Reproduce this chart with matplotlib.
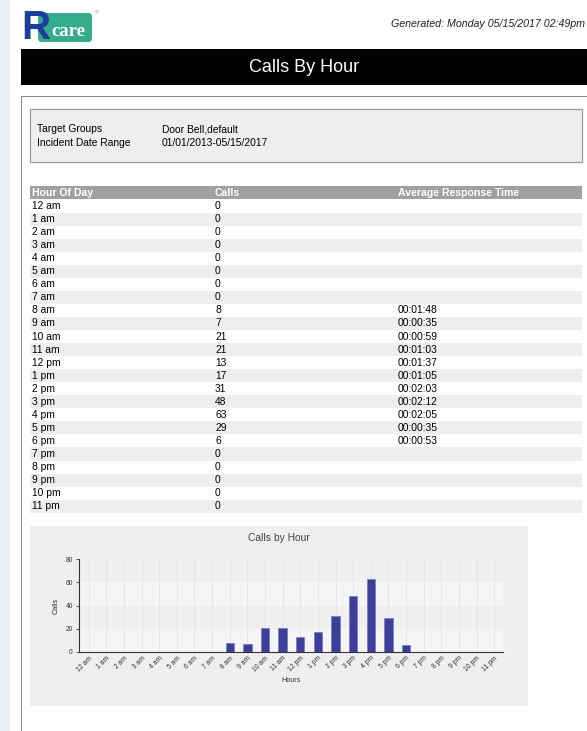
import matplotlib
matplotlib.use('Agg')
import matplotlib.pyplot as plt
from matplotlib.patches import Rectangle, FancyBboxPatch
import numpy as np

# report data
hours = ['12 am', '1 am', '2 am', '3 am', '4 am', '5 am', '6 am', '7 am',
         '8 am', '9 am', '10 am', '11 am', '12 pm', '1 pm', '2 pm', '3 pm',
         '4 pm', '5 pm', '6 pm', '7 pm', '8 pm', '9 pm', '10 pm', '11 pm']
calls = [0, 0, 0, 0, 0, 0, 0, 0, 8, 7, 21, 21, 13, 17, 31, 48, 63, 29, 6, 0, 0, 0, 0, 0]
avg_response = ['', '', '', '', '', '', '', '',
                '00:01:48', '00:00:35', '00:00:59', '00:01:03', '00:01:37', '00:01:05',
                '00:02:03', '00:02:12', '00:02:05', '00:00:35', '00:00:53',
                '', '', '', '', '']
columns = ['Hour Of Day', 'Calls', 'Average Response Time']
filter_labels = ['Target Groups', 'Incident Date Range']
filter_values = ['Door Bell,default', '01/01/2013-05/15/2017']
y_ticks = [0, 20, 40, 60, 80]

plt.rcParams['font.family'] = ['Liberation Sans', 'DejaVu Sans']

W, H = 587, 731
fig = plt.figure(figsize=(W / 100, H / 100), dpi=100)
fig.set_facecolor('white')


def fx(x):
    return x / W


def fy(y):
    return 1 - y / H


def rect(x0, y0, x1, y1, **kw):
    fig.add_artist(Rectangle((fx(x0), fy(y1)), (x1 - x0) / W, (y1 - y0) / H,
                             transform=fig.transFigure, **kw))


def txt(x, y, s, **kw):
    kw.setdefault('va', 'center')
    kw.setdefault('fontsize', 7.4)
    fig.text(fx(x), fy(y), s, **kw)


# side strip and page frame
rect(0, 0, 10, H, color='#E8EFF7', lw=0)
rect(20.5, 96, 22, H, color='#8A8A8A', lw=0)
rect(20.5, 95.5, W, 97, color='#8A8A8A', lw=0)

# logo
fig.add_artist(FancyBboxPatch((fx(38), fy(42)), 54 / W, 29 / H,
                              boxstyle='round,pad=0,rounding_size=0.006',
                              transform=fig.transFigure, color='#35AD8C', lw=0))
txt(68, 31, 'care', color='white', fontsize=13.5, fontweight='bold',
    family='Liberation Serif', ha='center')
txt(36, 28, 'R', color='#1D3E9A', fontsize=29, fontweight='bold', ha='center')
txt(97, 13, '®', color='#999999', fontsize=4, ha='center')

txt(585, 24, 'Generated: Monday 05/15/2017 02:49pm', fontstyle='italic',
    fontsize=7.7, color='#222222', ha='right')

# title bar
rect(20.5, 49.5, W, 84.5, color='black', lw=0)
txt(304, 67, 'Calls By Hour', color='white', fontsize=13, ha='center')

# filter box
rect(30, 109, 582, 162, facecolor='#EEEEEE', edgecolor='#9A9A9A', lw=0.9)
for i, (lab, val) in enumerate(zip(filter_labels, filter_values)):
    txt(37, 129 + 14 * i, lab)
    txt(162, 129 + 14 * i, val)

# table
col_x = [32, 215, 398]
rect(30, 186, 582, 198.5, color='#A0A0A0', lw=0)
for cx, name in zip(col_x, columns):
    txt(cx, 192.5, name, color='white', fontweight='bold', fontsize=7.6)
row_h = 13.05
for i, (h, c, r) in enumerate(zip(hours, calls, avg_response)):
    top = 199.5 + row_h * i
    if i % 2 == 1:
        rect(30, top, 582, top + row_h, color='#EEEEEE', lw=0)
    yc = top + row_h / 2
    txt(col_x[0], yc, h)
    txt(col_x[1], yc, str(c))
    txt(col_x[2], yc, r)

# chart panel
rect(30, 526, 528, 706, color='#EFEFEF', lw=0)
txt(279, 538, 'Calls by Hour', color='#444444', fontsize=7.4, ha='center')

ax = fig.add_axes([fx(79), fy(652), (503 - 79) / W, (652 - 559) / H])
ax.set_zorder(5)
ax.set_facecolor('none')
x = np.arange(len(hours))
ax.axhspan(0, 20, color='#F5F5F5', lw=0, zorder=0)
ax.axhspan(40, 60, color='#F5F5F5', lw=0, zorder=0)
ax.set_xticks(x)
ax.grid(axis='x', color='#E2E2E2', lw=0.6, zorder=0)
ax.bar(x, calls, width=0.47, color='#3C3E97', edgecolor='#7C7CD0', lw=0.6, zorder=3)
ax.set_xlim(-0.55, 23.5)
ax.set_ylim(0, 80)
ax.set_yticks(y_ticks)
ax.set_xticklabels(hours, rotation=45, ha='right', rotation_mode='anchor', fontsize=4.9, color='#333333')
ax.tick_params(axis='y', labelsize=4.8, colors='#333333', length=2.5, width=0.6, pad=2)
ax.tick_params(axis='x', length=0, pad=2)
for s in ['top', 'right']:
    ax.spines[s].set_visible(False)
for s in ['left', 'bottom']:
    ax.spines[s].set_color('#333333')
    ax.spines[s].set_linewidth(0.8)
ax.set_ylabel('Calls', fontsize=5.2, color='#333333', labelpad=4)
ax.set_xlabel('Hours', fontsize=5.2, color='#333333', labelpad=3)

fig.savefig('out.png', dpi=100)
